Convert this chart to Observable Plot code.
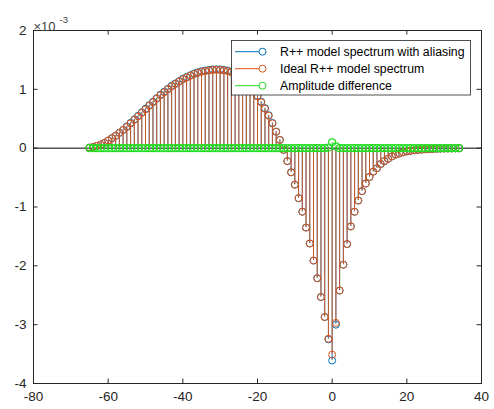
<!DOCTYPE html>
<html><head><meta charset="utf-8">
<script src="https://cdn.jsdelivr.net/npm/d3@7"></script>
<script src="https://cdn.jsdelivr.net/npm/@observablehq/plot@0.6"></script>
<style>body{margin:0;background:#fff}</style>
</head><body><div id="chart"></div>
<script>
// frequency bins
const bins = [-65,-64,-63,-62,-61,-60,-59,-58,-57,-56,
  -55,-54,-53,-52,-51,-50,-49,-48,-47,-46,
  -45,-44,-43,-42,-41,-40,-39,-38,-37,-36,
  -35,-34,-33,-32,-31,-30,-29,-28,-27,-26,
  -25,-24,-23,-22,-21,-20,-19,-18,-17,-16,
  -15,-14,-13,-12,-11,-10,-9,-8,-7,-6,
  -5,-4,-3,-2,-1,0,1,2,3,4,
  5,6,7,8,9,10,11,12,13,14,
  15,16,17,18,19,20,21,22,23,24,
  25,26,27,28,29,30,31,32,33,34];
// values in units of 1e-3
const ideal = [0.01,0.02,0.04,0.06,0.09,0.13,0.17,0.21,0.26,0.31,
  0.36,0.42,0.48,0.54,0.60,0.66,0.72,0.78,0.84,0.90,
  0.95,1.00,1.05,1.09,1.13,1.17,1.20,1.23,1.26,1.28,
  1.30,1.31,1.32,1.33,1.33,1.33,1.32,1.31,1.29,1.26,
  1.23,1.18,1.12,1.05,0.97,0.88,0.78,0.67,0.55,0.42,
  0.28,0.14,-0.03,-0.22,-0.41,-0.62,-0.85,-1.08,-1.35,-1.62,
  -1.91,-2.21,-2.53,-2.87,-3.24,-3.51,-2.97,-2.42,-1.98,-1.63,
  -1.33,-1.08,-0.89,-0.73,-0.60,-0.49,-0.40,-0.34,-0.27,-0.22,
  -0.18,-0.14,-0.11,-0.09,-0.07,-0.055,-0.045,-0.035,-0.03,-0.025,
  -0.02,-0.016,-0.013,-0.01,-0.008,-0.006,-0.005,-0.004,-0.003,-0.002];
const aliased = [0.01,0.02,0.04,0.06,0.09,0.13,0.17,0.21,0.26,0.31,
  0.37,0.43,0.49,0.55,0.61,0.67,0.73,0.79,0.85,0.91,
  0.96,1.01,1.06,1.10,1.14,1.18,1.21,1.24,1.27,1.29,
  1.31,1.32,1.33,1.34,1.34,1.34,1.33,1.32,1.30,1.27,
  1.24,1.19,1.13,1.06,0.98,0.89,0.79,0.68,0.56,0.43,
  0.28,0.14,-0.03,-0.22,-0.41,-0.62,-0.85,-1.08,-1.35,-1.62,
  -1.91,-2.21,-2.53,-2.87,-3.25,-3.61,-3.00,-2.42,-1.98,-1.63,
  -1.33,-1.08,-0.89,-0.73,-0.60,-0.49,-0.40,-0.34,-0.27,-0.22,
  -0.18,-0.14,-0.11,-0.09,-0.07,-0.055,-0.045,-0.035,-0.03,-0.025,
  -0.02,-0.016,-0.013,-0.01,-0.008,-0.006,-0.005,-0.004,-0.003,-0.002];
const ampDiff = [0,0,0,0,0,0,0,0,0,0,
  0,0,0,0,0,0,0,0,0,0,
  0,0,0,0,0,0,0,0,0,0,
  0,0,0,0,0,0,0,0,0,0,
  0,0,0,0,0,0,0,0,0,0,
  0,0,0,0,0,0,0,0,0,0,
  0,0,0,0,0.01,0.10,0.03,0,0,0,
  0,0,0,0,0,0,0,0,0,0,
  0,0,0,0,0,0,0,0,0,0,
  0,0,0,0,0,0,0,0,0,0];
const xTicks = [-80,-60,-40,-20,0,20,40];
const yTicks = [-4,-3,-2,-1,0,1,2];
const seriesNames = ["R++ model spectrum with aliasing","Ideal R++ model spectrum","Amplitude difference"];
const seriesColors = ["#0072BD","#D95319","#22DD22"];
const seriesValues = [aliased, ideal, ampDiff];

const W = 494, H = 409, mL = 33, mR = 13, mT = 30, mB = 26;
const plotW = W - mL - mR, plotH = H - mT - mB;
const axisColor = "#262626";
const font = "'Liberation Sans', Arial, Helvetica, sans-serif";
const tickLen = 4.5;

const seriesMarks = seriesValues.flatMap((vals, s) => {
  const rows = bins.map((b, i) => ({x: b, y: vals[i]}));
  return [
    Plot.ruleX(rows, {x: "x", y1: 0, y2: "y", stroke: seriesColors[s], strokeWidth: 1, strokeOpacity: 0.9}),
    Plot.dot(rows, {x: "x", y: "y", r: 3.5, stroke: seriesColors[s], fill: "none", strokeWidth: s === 2 ? 1.2 : 1})
  ];
});

const chart = Plot.plot({
  width: W, height: H,
  marginLeft: mL, marginRight: mR, marginTop: mT, marginBottom: mB,
  style: {fontFamily: font, background: "white", color: axisColor},
  x: {domain: [-80, 40]},
  y: {domain: [-4, 2]},
  marks: [
    Plot.ruleY([0], {stroke: "#000", strokeWidth: 1}),
    ...seriesMarks,
    Plot.frame({stroke: axisColor, strokeWidth: 1}),
    Plot.tickX(xTicks, {x: d => d, insetTop: plotH - tickLen, stroke: axisColor}),
    Plot.tickX(xTicks, {x: d => d, insetBottom: plotH - tickLen, stroke: axisColor}),
    Plot.tickY(yTicks, {y: d => d, insetRight: plotW - tickLen, stroke: axisColor}),
    Plot.tickY(yTicks, {y: d => d, insetLeft: plotW - tickLen, stroke: axisColor}),
    Plot.axisX(xTicks, {tickSize: 0, tickPadding: 8, tickFormat: d => String(d), fontSize: 13.5, label: null, fill: axisColor}),
    Plot.axisY(yTicks, {tickSize: 0, tickPadding: 7, tickFormat: d => String(d), fontSize: 13.5, label: null, fill: axisColor}),
    Plot.text(["×10"], {text: d => d, frameAnchor: "top-left", dy: -8.5, textAnchor: "start", fontSize: 13, fill: "#404040"}),
    Plot.text(["-3"], {text: d => d, frameAnchor: "top-left", dx: 26, dy: -14.5, textAnchor: "start", fontSize: 9.5, fill: "#404040"})
  ]
});
document.getElementById("chart").appendChild(chart);

// legend drawn inside the plot area
const svg = d3.select(chart);
const lg = svg.append("g").attr("font-family", font).attr("font-size", 12.3).attr("text-anchor", "start");
lg.append("rect").attr("x", 231.5).attr("y", 40.5).attr("width", 239).attr("height", 54.5)
  .attr("fill", "white").attr("stroke", axisColor).attr("stroke-width", 0.8);
seriesNames.forEach((name, i) => {
  const yy = 51.7 + i * 17;
  lg.append("line").attr("x1", 235).attr("x2", 262.5).attr("y1", yy).attr("y2", yy)
    .attr("stroke", seriesColors[i]).attr("stroke-width", 1);
  lg.append("circle").attr("cx", 262.5).attr("cy", yy).attr("r", 3.5)
    .attr("fill", "white").attr("stroke", seriesColors[i]).attr("stroke-width", 1);
  lg.append("text").attr("x", 280).attr("y", yy).attr("dy", "0.35em")
    .attr("text-anchor", "start").attr("fill", "#000").text(name);
});
</script>
</body></html>
